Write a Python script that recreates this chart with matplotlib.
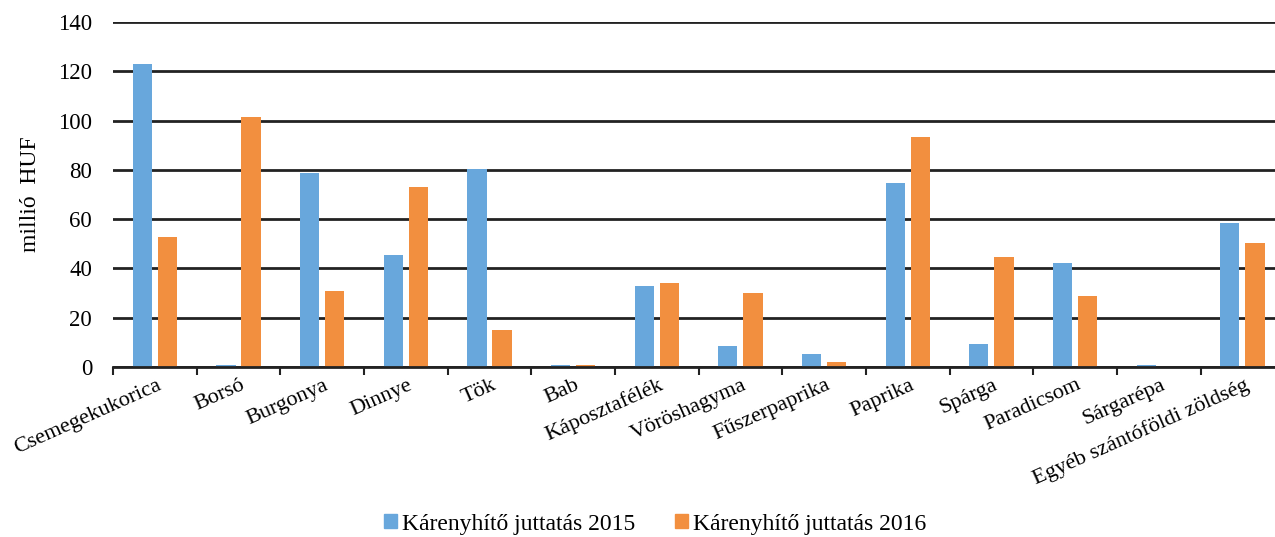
import numpy as np
import matplotlib.pyplot as plt
from matplotlib.patches import Patch

# Data (millió HUF)
categories = ["Csemegekukorica", "Borsó", "Burgonya", "Dinnye", "Tök", "Bab",
              "Káposztafélék", "Vöröshagyma", "Fűszerpaprika", "Paprika",
              "Spárga", "Paradicsom", "Sárgarépa", "Egyéb szántóföldi zöldség"]
values_2015 = [123, 1, 78.7, 45.5, 80.3, 1, 33, 8.5, 5.3, 74.7, 9.3, 42.2, 1, 58.4]
values_2016 = [52.8, 101.5, 31, 73, 15, 1, 34, 30, 2, 93.3, 44.6, 28.8, 0, 50.3]
series_names = ["Kárenyhítő juttatás 2015", "Kárenyhítő juttatás 2016"]

blue = "#68a7dc"
orange = "#f28f3f"

plt.rcParams["font.family"] = ["Liberation Serif", "DejaVu Serif"]

fig = plt.figure(figsize=(12.75, 5.37), dpi=100)
ax = fig.add_axes([0.0886, 0.3166, 1 - 0.0886, 0.959 - 0.3166])

x = np.arange(len(categories))
w = 0.23
ax.bar(x - 0.15, values_2015, width=w, color=blue, zorder=3)
ax.bar(x + 0.15, values_2016, width=w, color=orange, zorder=3)

ax.set_ylim(0, 140)
ax.set_yticks(range(0, 141, 20))
ax.set_xlim(-0.5, 13.39)
ax.yaxis.grid(True, color="#222222", linewidth=2, zorder=0)
ax.set_axisbelow(True)

for s in ["top", "right", "left"]:
    ax.spines[s].set_visible(False)
ax.spines["bottom"].set_color("#222222")
ax.spines["bottom"].set_linewidth(2)
ax.spines["bottom"].set_zorder(4)

# category boundary ticks
ax.set_xticks(np.arange(-0.5, 13.5, 1))
ax.set_xticklabels([])
ax.tick_params(axis="x", length=6, width=1.5, color="#222222", direction="out")
ax.tick_params(axis="y", length=0, labelsize=16.5, pad=15)

for i, name in enumerate(categories):
    ax.text(i + 0.02, -3.5, name, rotation=24, ha="right", va="top",
            rotation_mode="anchor", fontsize=16, transform=ax.transData)

ax.set_ylabel("millió  HUF", fontsize=17)
ax.yaxis.set_label_coords(-0.062, 0.5)

handles = [Patch(color=blue), Patch(color=orange)]
fig.legend(handles, series_names, loc="center", bbox_to_anchor=(0.514, 0.024),
           ncol=2, frameon=False, fontsize=17, handlelength=0.55,
           handleheight=0.55, handletextpad=0.2, columnspacing=1.7)

fig.savefig("out.png", dpi=100)
